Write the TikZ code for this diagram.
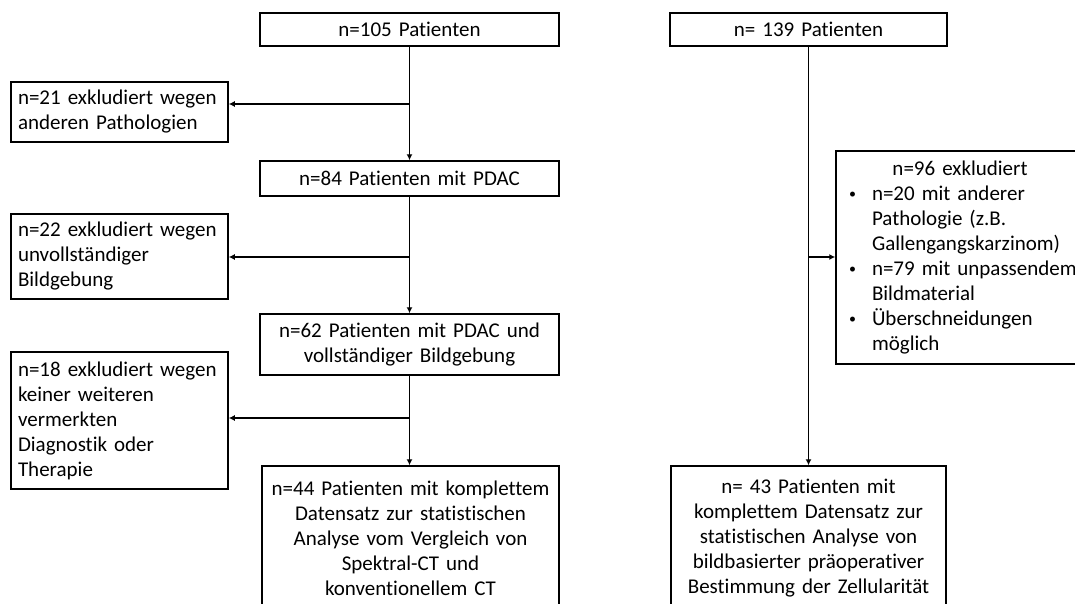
\documentclass[tikz,border=0pt]{standalone}
\usepackage{fontspec}
\setmainfont{Carlito}[Ligatures=NoCommon]
\usetikzlibrary{arrows.meta}
\newcommand{\bul}{\makebox[23pt][l]{\raisebox{2pt}{\fontsize{14}{14}\selectfont\textbullet}}}
\newcommand{\ind}{\hspace*{23pt}}
\begin{document}
\begin{tikzpicture}[x=1pt,y=-1pt,
  box/.style={draw=black, line width=1.5pt, inner ysep=0pt, inner xsep=7pt,
              font=\fontsize{21}{25}\selectfont},
  mainbox/.style={box, align=center},
  sidebox/.style={box, align=left, text width=203pt},
  conn/.style={draw=black, line width=1.5pt, -{Latex[length=6pt,width=6pt]}}]
\useasboundingbox (0,0) rectangle (1075,603);
\clip (0,0) rectangle (1075,603);

% left column
\node[mainbox, text width=285pt, minimum height=33pt] (A) at (409.5,29.5) {n=105 Patienten};
\node[mainbox, text width=285pt, minimum height=35pt] (C) at (409.5,178.5) {n=84 Patienten mit PDAC};
\node[mainbox, text width=285pt, minimum height=61pt] (E) at (409.5,344.5) {n=62 Patienten mit PDAC und\\vollständiger Bildgebung};
\node[mainbox, text width=283pt, minimum height=144pt] (G) at (410.5,538) {n=44 Patienten mit komplettem\\Datensatz zur statistischen\\Analyse vom Vergleich von\\Spektral-CT und\\konventionellem CT};

\node[sidebox, minimum height=60pt] (B) at (119.5,112) {n=21 exkludiert wegen\\anderen Pathologien};
\node[sidebox, minimum height=85pt] (D) at (119.5,256.5) {n=22 exkludiert wegen\\unvollständiger\\Bildgebung};
\node[sidebox, minimum height=137pt] (F) at (119.5,420.5) {n=18 exkludiert wegen\\keiner weiteren\\vermerkten\\Diagnostik oder\\Therapie};

% right column
\node[mainbox, text width=263pt, minimum height=33pt] (H) at (808.5,29.5) {n= 139 Patienten};
\node[box, align=left, text width=250pt, inner xsep=13pt, minimum height=213pt] (I) at (974,257.5)
  {\makebox[222pt][c]{n=96 exkludiert}\\
   \bul n=20 mit anderer\\
   \ind Pathologie (z.B.\\
   \ind Gallengangskarzinom)\\
   \bul n=79 mit unpassendem\\
   \ind Bildmaterial\\
   \bul Überschneidungen\\
   \ind möglich};
\node[mainbox, text width=261pt, minimum height=144pt] (J) at (808.5,538) {n= 43 Patienten mit\\komplettem Datensatz zur\\statistischen Analyse von\\bildbasierter präoperativer\\Bestimmung der Zellularität};

% junctions
\coordinate (jB) at (409.5,104);
\coordinate (jD) at (409.5,257);
\coordinate (jF) at (409.5,418);
\coordinate (jI) at (808.5,257);

% connectors
\draw[conn] (A.south) -- (C.north);
\draw[conn] (C.south) -- (E.north);
\draw[conn] (E.south) -- (E.south |- G.north);
\draw[conn] (jB) -- (jB -| B.east);
\draw[conn] (jD) -- (jD -| D.east);
\draw[conn] (jF) -- (jF -| F.east);
\draw[conn] (H.south) -- (H.south |- J.north);
\draw[conn] (jI) -- (jI -| I.west);
\end{tikzpicture}
\end{document}
